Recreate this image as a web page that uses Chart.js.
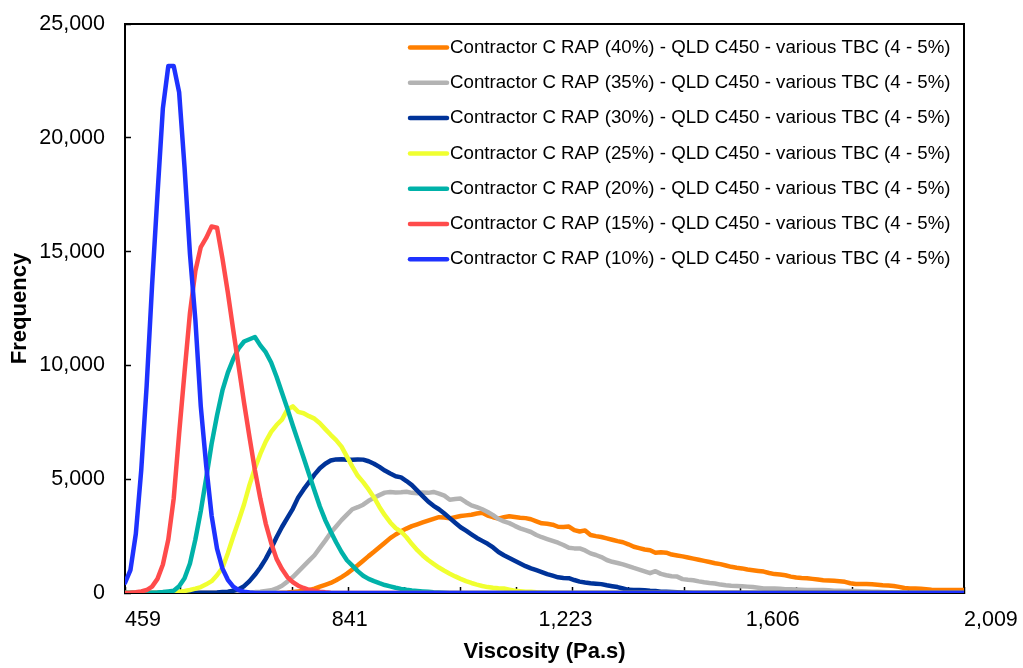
<!DOCTYPE html>
<html>
<head>
<meta charset="utf-8">
<title>Viscosity distribution</title>
<script src="https://cdn.jsdelivr.net/npm/chart.js@4.4.1/dist/chart.umd.min.js"></script>
<style>
  html, body { margin: 0; padding: 0; background: #fff; }
  canvas { display: block; }
</style>
</head>
<body>
<canvas id="chart" width="1023" height="668"></canvas>
<script>
// Viscosity bins (Pa.s), 10 Pa.s wide from 459 up to 2009
const binStart = 459;
const binWidth = 10;
const binCount = 156;
const viscosity = Array.from({ length: binCount }, (_, i) => binStart + i * binWidth);

// Axis labels
const viscosityLabels = [459, 841, 1223, 1606, 2009];
const frequencyMax = 25000;
const frequencyStep = 5000;

// Counts per bin. Each list starts at bin index *First, bins outside it are 0.
const rap40First = 29;
const rap40 = [
  10, 20, 40, 65, 95, 125, 195, 280, 360, 440,
  560, 700, 850, 1030, 1220, 1420, 1620, 1810, 2010, 2210,
  2410, 2570, 2710, 2830, 2940, 3020, 3100, 3180, 3260, 3330,
  3320, 3280, 3330, 3380, 3410, 3440, 3490, 3530, 3400, 3330,
  3270, 3330, 3370, 3340, 3310, 3290, 3240, 3150, 3060, 3040,
  3000, 2910, 2900, 2920, 2760, 2700, 2750, 2550, 2500, 2460,
  2400, 2340, 2280, 2230, 2140, 2030, 1970, 1910, 1880, 1770,
  1790, 1770, 1690, 1650, 1610, 1560, 1510, 1460, 1410, 1360,
  1310, 1270, 1210, 1150, 1110, 1080, 1030, 1000, 970, 940,
  880, 830, 810, 780, 720, 680, 660, 650, 620, 590,
  565, 550, 540, 520, 490, 430, 400, 400, 400, 380,
  360, 340, 330, 310, 270, 220, 200, 200, 185, 160,
  140, 130, 130, 130, 130, 130, 130,
];

const rap35First = 21;
const rap35 = [
  10, 20, 30, 40, 60, 90, 120, 200, 320, 500,
  700, 940, 1180, 1420, 1660, 1980, 2300, 2640, 2920, 3200,
  3440, 3680, 3770, 3880, 4050, 4180, 4300, 4410, 4440, 4420,
  4430, 4450, 4400, 4380, 4420, 4400, 4440, 4370, 4280, 4100,
  4130, 4150, 3990, 3850, 3770, 3680, 3560, 3420, 3250, 3150,
  3070, 2950, 2840, 2760, 2680, 2550, 2450, 2370, 2290, 2210,
  2110, 1990, 1960, 1960, 1870, 1740, 1670, 1580, 1450, 1370,
  1320, 1260, 1180, 1100, 1030, 950, 870, 960, 840, 780,
  740, 720, 610, 580, 560, 510, 470, 440, 420, 370,
  340, 320, 310, 300, 280, 260, 230, 200, 200, 200,
  190, 170, 160, 150, 140, 130, 130, 130, 130, 120,
  100, 100, 90, 90, 90, 80, 70, 60, 50, 40,
  30, 20, 20, 10,
];

const rap30First = 14;
const rap30 = [
  10, 10, 10, 20, 40, 60, 100, 170, 300, 520,
  800, 1120, 1500, 1950, 2450, 2900, 3300, 3700, 4200, 4550,
  4870, 5200, 5480, 5680, 5820, 5870, 5880, 5850, 5850, 5870,
  5860, 5790, 5680, 5540, 5380, 5250, 5130, 5080, 4920, 4740,
  4500, 4260, 4020, 3830, 3680, 3490, 3290, 3090, 2890, 2740,
  2580, 2420, 2290, 2160, 2000, 1800, 1660, 1540, 1420, 1300,
  1180, 1080, 1000, 920, 830, 760, 690, 660, 650, 570,
  500, 460, 430, 410, 390, 340, 300, 260, 200, 140,
  130, 130, 120, 100, 90, 60, 50, 40, 30, 20,
  10,
];

const rap25First = 7;
const rap25 = [
  10, 20, 30, 60, 90, 130, 190, 260, 380, 520,
  780, 1100, 1750, 2480, 3170, 3900, 4750, 5480, 6110, 6650,
  7080, 7380, 7620, 8060, 8200, 7960, 7900, 7770, 7660, 7460,
  7200, 6950, 6720, 6430, 5990, 5550, 5150, 4870, 4550, 4200,
  3780, 3420, 3100, 2850, 2700, 2450, 2150, 1880, 1650, 1450,
  1280, 1120, 980, 850, 730, 620, 520, 440, 370, 310,
  260, 230, 210, 200, 150, 100, 80, 60, 50, 30,
  20, 10,
];

const rap20First = 5;
const rap20 = [
  10, 20, 40, 70, 100, 300, 650, 1300, 2350, 3600,
  5050, 6550, 7800, 8900, 9680, 10280, 10750, 11050, 11150, 11250,
  10880, 10580, 10130, 9500, 8800, 8100, 7360, 6650, 5940, 5220,
  4500, 3800, 3200, 2700, 2230, 1800, 1440, 1200, 960, 760,
  620, 520, 430, 350, 290, 230, 180, 140, 110, 90,
  70, 50, 30, 20, 10,
];

const rap15First = 0;
const rap15 = [
  0, 10, 30, 70, 130, 280, 620, 1250, 2350, 4150,
  7000, 9700, 12300, 14150, 15200, 15600, 16100, 16050, 14700, 13200,
  11550, 9950, 8350, 6850, 5400, 4150, 3050, 2200, 1500, 1050,
  700, 480, 320, 220, 140, 100, 60, 30, 10,
];

const rap10First = 0;
const rap10 = [
  440, 1000, 2600, 5400, 9100, 13500, 17500, 21300, 23150, 23150,
  22000, 18700, 14900, 12000, 8200, 5600, 3400, 1950, 1080, 580,
  280, 130, 60, 20,
];

const seriesLabels = [
  "Contractor C RAP (40%) - QLD C450 - various TBC (4 - 5%)",
  "Contractor C RAP (35%) - QLD C450 - various TBC (4 - 5%)",
  "Contractor C RAP (30%) - QLD C450 - various TBC (4 - 5%)",
  "Contractor C RAP (25%) - QLD C450 - various TBC (4 - 5%)",
  "Contractor C RAP (20%) - QLD C450 - various TBC (4 - 5%)",
  "Contractor C RAP (15%) - QLD C450 - various TBC (4 - 5%)",
  "Contractor C RAP (10%) - QLD C450 - various TBC (4 - 5%)",
];
const seriesCounts = [rap40, rap35, rap30, rap25, rap20, rap15, rap10];
const seriesFirst = [rap40First, rap35First, rap30First, rap25First, rap20First, rap15First, rap10First];
const seriesColors = ["#FF7F00", "#B3B3B3", "#003399", "#F0FF30", "#00B2A9", "#FF4B4B", "#1E32FF"];

const fontFamily = "'Liberation Sans', Arial, Helvetica, sans-serif";

// spread a partial count list over the full set of bins
const onBins = (counts, first) => {
  const values = new Array(binCount).fill(0);
  counts.forEach((count, i) => {
    values[first + i] = count;
  });
  return values;
};

const xMin = viscosity[0];
const xMax = viscosity[binCount - 1];
// 15 minor divisions along the viscosity axis
const xMarks = Array.from({ length: 16 }, (_, k) => xMin + ((xMax - xMin) * k) / 15);
const isMark = (v) => xMarks.some((m) => Math.abs(m - v) < 0.01);

const datasets = seriesLabels.map((label, i) => ({
  label,
  data: onBins(seriesCounts[i], seriesFirst[i]),
  borderColor: seriesColors[i],
  backgroundColor: seriesColors[i],
  borderWidth: 4.5,
  borderJoinStyle: "round",
  borderCapStyle: "round",
  pointRadius: 0,
  tension: 0,
  // later series sit on top, like the original plot
  order: seriesLabels.length - i,
}));

// top and right edges of the plot box
const plotFrame = {
  id: "plotFrame",
  beforeDatasetsDraw(chart) {
    const { ctx, chartArea } = chart;
    ctx.save();
    ctx.strokeStyle = "#000";
    ctx.lineWidth = 2;
    ctx.beginPath();
    ctx.moveTo(chartArea.left, chartArea.top);
    ctx.lineTo(chartArea.right, chartArea.top);
    ctx.lineTo(chartArea.right, chartArea.bottom);
    ctx.stroke();
    ctx.restore();
  },
};

// legend drawn inside the plot, top right
const insideLegend = {
  id: "insideLegend",
  afterDraw(chart) {
    const { ctx, chartArea } = chart;
    const x0 = chartArea.left + 283;
    const y0 = chartArea.top + 23.5;
    const rowHeight = 35.3;
    ctx.save();
    ctx.font = `18.7px ${fontFamily}`;
    ctx.textBaseline = "middle";
    ctx.textAlign = "left";
    chart.data.datasets.forEach((dataset, i) => {
      const y = y0 + i * rowHeight;
      ctx.strokeStyle = dataset.borderColor;
      ctx.lineWidth = 4.5;
      ctx.lineCap = "round";
      ctx.beginPath();
      ctx.moveTo(x0 + 2, y);
      ctx.lineTo(x0 + 39, y);
      ctx.stroke();
      ctx.fillStyle = "#000";
      ctx.fillText(dataset.label, x0 + 42, y);
    });
    ctx.restore();
  },
};

new Chart(document.getElementById("chart"), {
  type: "line",
  data: { labels: viscosity, datasets },
  plugins: [plotFrame, insideLegend],
  options: {
    responsive: false,
    animation: false,
    locale: "en-US",
    layout: { padding: { top: 24, right: 59, left: 0, bottom: 0 } },
    plugins: {
      legend: { display: false },
      tooltip: { enabled: false },
    },
    scales: {
      x: {
        type: "linear",
        min: xMin,
        max: xMax,
        afterBuildTicks(scale) {
          const values = [...new Set([...xMarks, ...viscosityLabels])].sort((a, b) => a - b);
          scale.ticks = values.map((value) => ({ value }));
        },
        afterFit(scale) {
          scale.height = 75;
          scale.paddingLeft = 0;
          scale.paddingRight = 0;
        },
        border: { display: true, color: "#000", width: 2 },
        grid: {
          drawOnChartArea: false,
          drawTicks: true,
          tickLength: -6,
          tickWidth: 1.5,
          tickColor: (c) => (c.tick && isMark(c.tick.value) ? "#000" : "rgba(0,0,0,0)"),
        },
        ticks: {
          autoSkip: false,
          maxRotation: 0,
          minRotation: 0,
          align: "start",
          padding: 20,
          color: "#000",
          font: { family: fontFamily, size: 21.5 },
          callback: (value) => (viscosityLabels.includes(value) ? value.toLocaleString("en-US") : ""),
        },
        title: {
          display: true,
          text: "Viscosity (Pa.s)",
          color: "#000",
          font: { family: fontFamily, size: 22, weight: "bold" },
          padding: { top: 0, bottom: 3 },
        },
      },
      y: {
        min: 0,
        max: frequencyMax,
        afterFit(scale) {
          scale.width = 125;
          scale.paddingTop = 0;
          scale.paddingBottom = 0;
        },
        border: { display: true, color: "#000", width: 2 },
        grid: {
          drawOnChartArea: false,
          drawTicks: true,
          tickLength: -6,
          tickWidth: 1.5,
          tickColor: "#000",
        },
        ticks: {
          stepSize: frequencyStep,
          padding: 26,
          color: "#000",
          font: { family: fontFamily, size: 21.5 },
          callback: (value) => value.toLocaleString("en-US"),
        },
        title: {
          display: true,
          text: "Frequency",
          color: "#000",
          font: { family: fontFamily, size: 22, weight: "bold" },
          padding: { top: 7, bottom: 0 },
        },
      },
    },
  },
});
</script>
</body>
</html>
